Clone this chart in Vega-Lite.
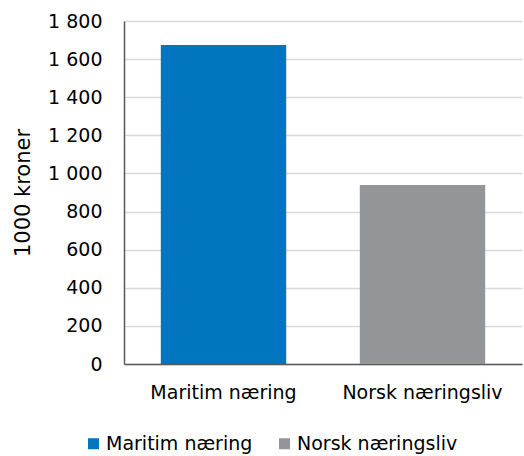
{
  "$schema": "https://vega.github.io/schema/vega-lite/v6.json",
  "width": 398,
  "height": 343,
  "autosize": {"type": "none"},
  "padding": {"left": 124, "top": 21, "right": 2, "bottom": 92},
  "background": "white",
  "data": {"values": [
    {"kategori": "Maritim næring", "verdi": 1674},
    {"kategori": "Norsk næringsliv", "verdi": 939}
  ]},
  "mark": {"type": "bar"},
  "encoding": {
    "x": {
      "field": "kategori", "type": "nominal", "sort": null,
      "scale": {"paddingInner": 0.37, "paddingOuter": 0.185},
      "axis": {"title": null, "labelAngle": 0, "labelFontSize": 19, "labelColor": "#000000", "labelPadding": 19, "ticks": false, "domainColor": "#595959", "domainWidth": 1.5, "labelLimit": 300}
    },
    "y": {
      "field": "verdi", "type": "quantitative",
      "scale": {"domain": [0, 1800], "nice": false},
      "axis": {"title": "1000 kroner", "titleFontSize": 21, "titleFontWeight": "normal", "titleColor": "#000000", "titlePadding": 14,
        "values": [0, 200, 400, 600, 800, 1000, 1200, 1400, 1600, 1800],
        "labelExpr": "replace(format(datum.value, ','), ',', ' ')",
        "labelFontSize": 19, "labelColor": "#000000", "labelPadding": 22, "ticks": false,
        "domainColor": "#595959", "domainWidth": 1.5, "gridColor": "#D9D9D9", "gridWidth": 1.5}
    },
    "color": {
      "field": "kategori", "type": "nominal", "sort": null,
      "scale": {"domain": ["Maritim næring", "Norsk næringsliv"], "range": ["#0175BE", "#939598"]},
      "legend": {"title": null, "orient": "none", "direction": "horizontal", "legendX": -40, "legendY": 413,
        "symbolType": "square", "symbolSize": 121, "symbolOpacity": 1, "labelFontSize": 19, "labelColor": "#000000", "columnPadding": 22, "labelOffset": 3, "labelLimit": 300}
    }
  },
  "config": {"view": {"stroke": null}, "font": "DejaVu Sans"}
}
